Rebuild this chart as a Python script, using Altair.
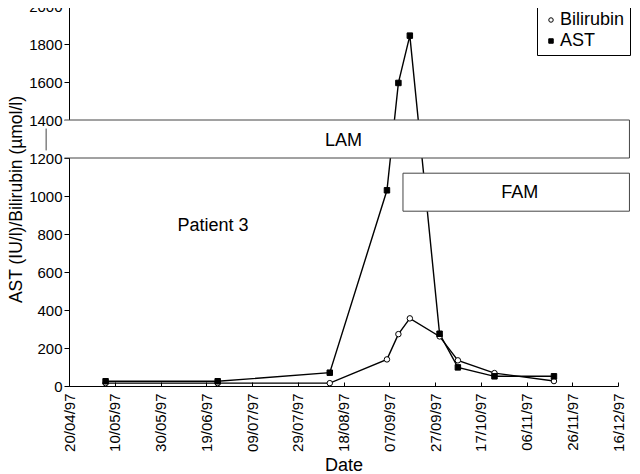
import altair as alt
import pandas as pd

FONT = "Liberation Sans"

# ---- data ----
dates = ["1997-05-06", "1997-06-24", "1997-08-12", "1997-09-06", "1997-09-11",
         "1997-09-16", "1997-09-29", "1997-10-07", "1997-10-23", "1997-11-18"]
bilirubin = [15, 15, 15, 140, 273, 356, 261, 135, 68, 26]
ast = [25, 25, 70, 1030, 1595, 1844, 275, 98, 51, 51]

series_names = ["Bilirubin", "AST"]
tick_dates = ["1997-04-20", "1997-05-10", "1997-05-30", "1997-06-19", "1997-07-09",
              "1997-07-29", "1997-08-18", "1997-09-07", "1997-09-27", "1997-10-17",
              "1997-11-06", "1997-11-26", "1997-12-16"]
y_ticks = [0, 200, 400, 600, 800, 1000, 1200, 1400, 1600, 1800, 2000]

# treatment boxes
lam_box = {"start": "1997-04-18", "end": "1997-12-21", "low": 1200, "high": 1400}
lam_left_edge = {"x": "1997-04-10", "low": 1240, "high": 1355}
fam_box = {"start": "1997-09-13", "end": "1997-12-21", "low": 920, "high": 1120}

annotations = pd.DataFrame({
    "label": ["LAM", "FAM", "Patient 3"],
    "date": ["1997-08-18", "1997-11-03", "1997-06-22"],
    "value": [1290, 1015, 840],
})

# ---- tables ----
df = pd.DataFrame({
    "date": dates * 2,
    "value": bilirubin + ast,
    "series": ["Bilirubin"] * len(dates) + ["AST"] * len(dates),
})


def dt(s):
    y, m, d = (int(p) for p in s.split("-"))
    return alt.DateTime(year=y, month=m, date=d, utc=True)


tick_vals = [dt(s) for s in tick_dates]
xscale = alt.Scale(type="utc", domain=[dt(tick_dates[0]), dt(tick_dates[-1])], nice=False)
yscale = alt.Scale(domain=[0, 2000], nice=False)

y_axis = alt.Axis(values=y_ticks, format="d", title="AST (IU/l)/Bilirubin (µmol/l)",
                  grid=False, tickSize=5, labelPadding=2, titleX=-44, titleY=193,
                  labelFontSize=15, titleFontSize=17.5, titleFontWeight="normal",
                  domainColor="black", tickColor="black", labelColor="black",
                  titleColor="black", labelFont=FONT, titleFont=FONT)

x_axis_bottom = alt.Axis(values=tick_vals, labelExpr="utcFormat(datum.value, '%d/%m/%y')",
                         labelAngle=270, ticks=False, tickSize=0, labelPadding=7,
                         title="Date", titleFontSize=18, titleFontWeight="normal",
                         titlePadding=5, labelFontSize=15, grid=False,
                         domainColor="black", labelColor="black", titleColor="black",
                         labelFont=FONT, titleFont=FONT, labelFlush=False,
                         labelOverlap=False)

x_axis_ticks = alt.Axis(orient="top", offset=-380, values=tick_vals, domain=False,
                        labels=False, ticks=True, tickSize=4, tickColor="black",
                        grid=False, title=None)

base = alt.Chart(df)

lines = base.mark_line(color="black", strokeWidth=1.4).encode(
    x=alt.X("date:T", scale=xscale, axis=x_axis_bottom),
    y=alt.Y("value:Q", scale=yscale, axis=y_axis),
    detail="series:N",
)

legend = alt.Legend(title=None, orient="none", legendX=468, legendY=0,
                    strokeColor="black", fillColor="white", padding=5,
                    labelFontSize=18, labelFont=FONT, labelColor="black",
                    symbolSize=20, symbolStrokeColor="black", symbolStrokeWidth=1,
                    labelOffset=0, rowPadding=3, cornerRadius=0)

points = base.mark_point(filled=True, size=30, strokeWidth=1, opacity=1).encode(
    x=alt.X("date:T", scale=xscale, axis=x_axis_ticks),
    y=alt.Y("value:Q", scale=yscale, axis=y_axis),
    shape=alt.Shape("series:N", scale=alt.Scale(domain=series_names,
                                                range=["circle", "square"]),
                    legend=legend),
    fill=alt.Fill("series:N", scale=alt.Scale(domain=series_names,
                                              range=["white", "black"]),
                  legend=legend),
    stroke=alt.Stroke("series:N", scale=alt.Scale(domain=series_names,
                                                  range=["black", "black"]),
                      legend=legend),
)

lam_df = pd.DataFrame({"start": [lam_box["start"]], "end": [lam_box["end"]],
                       "low": [lam_box["low"]], "high": [lam_box["high"]]})
fam_df = pd.DataFrame({"start": [fam_box["start"]], "end": [fam_box["end"]],
                       "low": [fam_box["low"]], "high": [fam_box["high"]]})


def box(data, **mark):
    return alt.Chart(data).mark_rect(**mark).encode(
        x=alt.X("start:T", scale=xscale, axis=None),
        x2="end:T",
        y=alt.Y("low:Q", scale=yscale, axis=y_axis),
        y2="high:Q",
    )


lam_fill = box(lam_df, fill="white", strokeWidth=0)
fam_rect = box(fam_df, fill="white", stroke="#444444", strokeWidth=1)

lam_edges = pd.DataFrame({
    "xa": [lam_box["start"], lam_box["start"], lam_box["end"], lam_left_edge["x"]],
    "xb": [lam_box["end"], lam_box["end"], lam_box["end"], lam_left_edge["x"]],
    "ya": [lam_box["high"], lam_box["low"], lam_box["low"], lam_left_edge["low"]],
    "yb": [lam_box["high"], lam_box["low"], lam_box["high"], lam_left_edge["high"]],
})

edges = alt.Chart(lam_edges).mark_rule(color="#444444", strokeWidth=1).encode(
    x=alt.X("xa:T", scale=xscale, axis=None),
    x2="xb:T",
    y=alt.Y("ya:Q", scale=yscale, axis=y_axis),
    y2="yb:Q",
)

texts = alt.Chart(annotations).mark_text(font=FONT, fontSize=18, color="black",
                                         align="center", baseline="middle").encode(
    x=alt.X("date:T", scale=xscale, axis=None),
    y=alt.Y("value:Q", scale=yscale, axis=y_axis),
    text="label:N",
)

chart = alt.layer(lines, points, lam_fill, fam_rect, edges, texts).resolve_axis(
    x="independent"
).properties(
    width=549,
    height=380,
    padding={"left": 61, "top": -2, "right": 14, "bottom": 88},
    autosize=alt.AutoSizeParams(type="none"),
    background="white",
).configure_view(stroke=None)

chart.save("out.html", embed_options={"renderer": "svg", "actions": False})
